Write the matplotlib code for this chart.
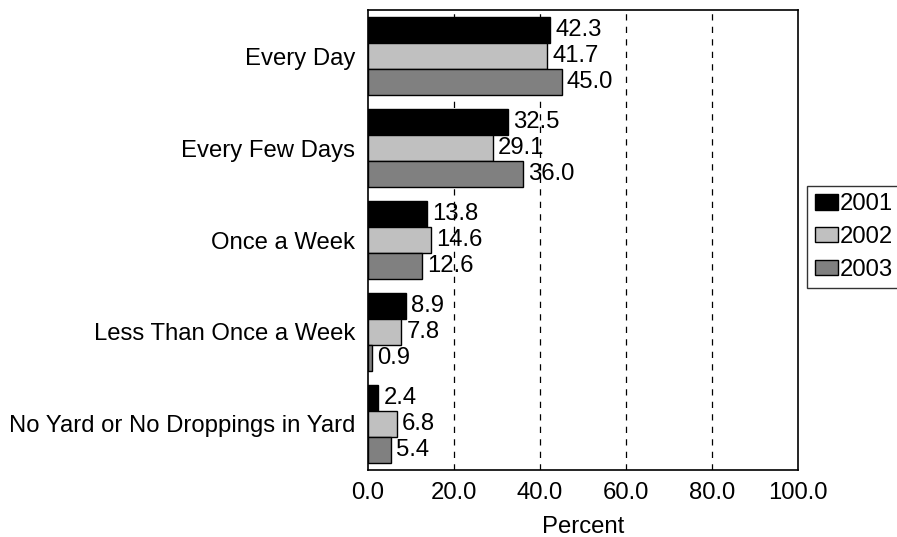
import numpy as np
import matplotlib.pyplot as plt

plt.rcParams['font.family'] = ['Liberation Sans', 'DejaVu Sans']

categories = ['Every Day', 'Every Few Days', 'Once a Week',
              'Less Than Once a Week', 'No Yard or No Droppings in Yard']
years = ['2001', '2002', '2003']
v2001 = [42.3, 32.5, 13.8, 8.9, 2.4]
v2002 = [41.7, 29.1, 14.6, 7.8, 6.8]
v2003 = [45.0, 36.0, 12.6, 0.9, 5.4]
colors = ['#000000', '#c0c0c0', '#808080']

fs = 17.2

fig = plt.figure(figsize=(8.97, 5.37), dpi=100)
ax = fig.add_axes([0.410, 0.125, 0.480, 0.856])

y = np.arange(len(categories))
h = 0.285
for i, (vals, c, yr) in enumerate(zip([v2001, v2002, v2003], colors, years)):
    pos = y + (i - 1) * h
    ax.barh(pos, vals, height=h, color=c, edgecolor='black', linewidth=1, label=yr)
    for p, v in zip(pos, vals):
        ax.text(v + 1.2, p, '%.1f' % v, va='center', ha='left', fontsize=fs)

ax.set_xlim(0, 100)
ax.set_ylim(len(categories) - 0.5, -0.5)
ax.set_yticks(y)
ax.set_yticklabels(categories, fontsize=fs)
ax.set_xticks([0, 20, 40, 60, 80, 100])
ax.set_xticklabels(['0.0', '20.0', '40.0', '60.0', '80.0', '100.0'], fontsize=fs)
ax.tick_params(axis='y', length=0, pad=9)
ax.tick_params(axis='x', length=0, pad=9)
for g in [20, 40, 60, 80]:
    ax.axvline(g, color='black', linestyle=(0, (5, 5)), linewidth=0.9, zorder=0)
for s in ax.spines.values():
    s.set_linewidth(1.2)
ax.set_xlabel('Percent', fontsize=fs, labelpad=8.5)

leg = ax.legend(loc='upper left', bbox_to_anchor=(1.021, 0.617), fontsize=fs,
                frameon=True, fancybox=False, edgecolor='black',
                handlelength=1.0, handleheight=0.6, handletextpad=0.05,
                borderpad=0.3, labelspacing=0.45, borderaxespad=0)
leg.get_frame().set_linewidth(1.0)

plt.savefig('out.png', dpi=100)
